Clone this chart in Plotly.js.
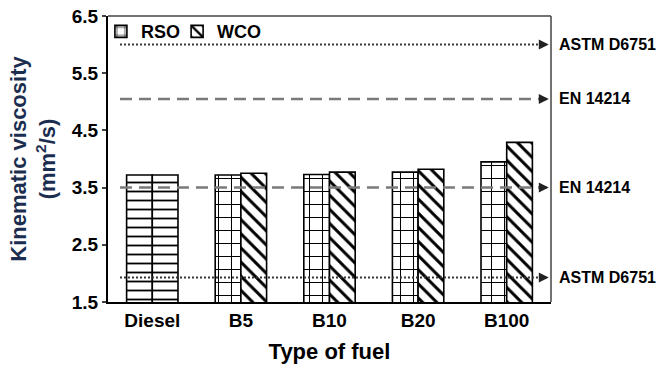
<!DOCTYPE html>
<html>
<head>
<meta charset="utf-8">
<script src="https://cdn.plot.ly/plotly-3.0.1.min.js"></script>
<style>html,body{margin:0;padding:0;background:#fff;}#chart{width:661px;height:371px;}</style>
</head>
<body>
<div id="chart"></div>
<script>
// Data
const blendCategories = ['B5', 'B10', 'B20', 'B100'];
const allCategories = ['Diesel', 'B5', 'B10', 'B20', 'B100'];
const dieselValue = [3.72];
const rsoValues = [3.72, 3.73, 3.77, 3.95];
const wcoValues = [3.75, 3.77, 3.82, 4.29];
const limitNames = ['ASTM D6751', 'EN 14214', 'EN 14214', 'ASTM D6751'];
const limitValues = [6.0, 5.05, 3.5, 1.93];
const limitStyles = ['astm', 'en', 'en', 'astm'];
const yTicks = [1.5, 2.5, 3.5, 4.5, 5.5, 6.5];

const W = 0.29;
const lineStyle = {color: 'black', width: 1.6};
const patt = (shape, size, sol) => ({shape: shape, size: size, solidity: sol, fgcolor: 'black', bgcolor: 'white', fillmode: 'replace'});

const traces = [
  {type: 'bar', name: 'Diesel', x: ['Diesel'], y: dieselValue, width: W, offset: -W, showlegend: false,
   marker: {color: 'white', line: lineStyle, pattern: patt('-', 9, 0.2)}},
  {type: 'bar', name: 'Diesel2', x: ['Diesel'], y: dieselValue, width: W, offset: 0, showlegend: false,
   marker: {color: 'white', line: lineStyle, pattern: patt('-', 9, 0.2)}},
  {type: 'bar', name: 'RSO', x: blendCategories, y: rsoValues, width: W, offset: -W, legend: 'legend',
   marker: {color: 'white', line: lineStyle, pattern: patt('+', 13, 0.15)}},
  {type: 'bar', name: 'WCO', x: blendCategories, y: wcoValues, width: W, offset: 0, legend: 'legend2',
   marker: {color: 'white', line: lineStyle, pattern: patt('\\', 10, 0.3)}}
];

const shapes = [];
const annotations = [];
limitValues.forEach((v, i) => {
  const astm = limitStyles[i] === 'astm';
  const col = astm ? '#333333' : '#7a7a7a';
  shapes.push({type: 'line', xref: 'paper', yref: 'y', x0: 0.027, x1: 0.99, y0: v, y1: v, layer: 'above',
    line: {color: col, width: astm ? 2 : 2.5, dash: astm ? '2px,2px' : '12px,7px'}});
  annotations.push({xref: 'paper', yref: 'y', x: 0.995, y: v, text: '', showarrow: true, ax: -6, ay: 0,
    arrowhead: 2, arrowsize: 1, arrowwidth: 2, arrowcolor: '#222'});
  annotations.push({xref: 'paper', yref: 'y', x: 1, y: v, xanchor: 'left', xshift: 6, text: limitNames[i], showarrow: false,
    font: {family: 'Arial, Liberation Sans, sans-serif', size: 16, color: 'black', weight: 'bold'}});
});

const legendBase = {
  orientation: 'h', y: 1.01, xanchor: 'left', yanchor: 'top',
  bgcolor: 'rgba(0,0,0,0)', font: {size: 18, weight: 'bold', color: 'black'}, itemwidth: 30
};

const layout = {
  width: 661, height: 371,
  margin: {l: 108, r: 110, t: 16, b: 69},
  paper_bgcolor: 'white', plot_bgcolor: 'white',
  barmode: 'overlay',
  font: {family: 'Arial, Liberation Sans, sans-serif', color: 'black'},
  xaxis: {
    categoryorder: 'array', categoryarray: allCategories,
    range: [-0.5, 4.5],
    showline: true, linecolor: 'black', linewidth: 2, mirror: false,
    ticks: '', showgrid: false,
    tickfont: {size: 19, weight: 'bold', color: 'black'},
    title: {text: 'Type of fuel', font: {size: 22, weight: 'bold', color: 'black'}, standoff: 14}
  },
  yaxis: {
    range: [1.5, 6.5], tickvals: yTicks, ticktext: yTicks.map(v => v.toFixed(1)),
    showline: true, linecolor: 'black', linewidth: 2,
    ticks: 'outside', ticklen: 4, tickwidth: 2, tickcolor: '#444',
    showgrid: false, zeroline: false,
    tickfont: {size: 19, weight: 'bold', color: 'black'},
    title: {text: 'Kinematic viscosity<br>(mm<sup>2</sup>/s)', font: {size: 22, weight: 'bold', color: '#1c2e50'}, standoff: 10}
  },
  legend: Object.assign({}, legendBase, {x: -0.016}),
  legend2: Object.assign({}, legendBase, {x: 0.156}),
  shapes: shapes.concat([
    {type: 'line', xref: 'paper', yref: 'paper', x0: 0, x1: 1, y0: 1, y1: 1, line: {color: '#444', width: 1.5}},
    {type: 'line', xref: 'paper', yref: 'paper', x0: 1, x1: 1, y0: 0, y1: 1, line: {color: '#444', width: 1.5}}
  ]),
  annotations: annotations
};

Plotly.newPlot('chart', traces, layout, {displayModeBar: false, staticPlot: true});
</script>
</body>
</html>
